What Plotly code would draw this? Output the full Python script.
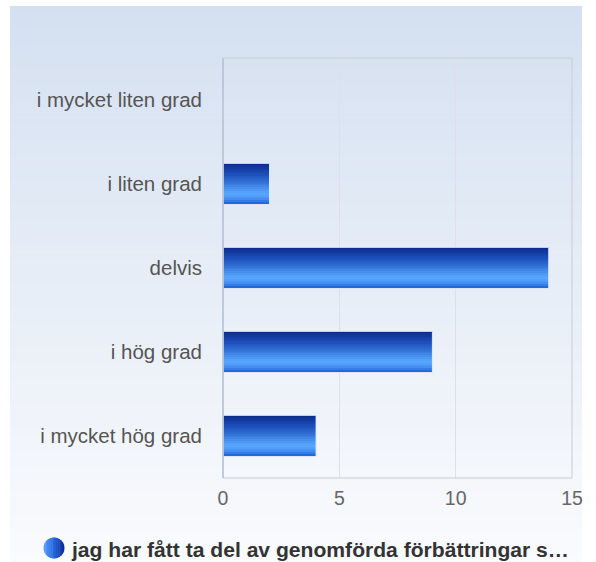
import math
import plotly.graph_objects as go

categories = ["i mycket liten grad", "i liten grad", "delvis", "i hög grad", "i mycket hög grad"]
values = [0, 2, 14, 9, 4]
x_ticks = [0, 5, 10, 15]
legend_label = "jag har fått ta del av genomförda förbättringar s…"

W, H = 596, 562
L, R, T, B = 223, 572, 58, 478
PW, PH = R - L, B - T

FONT = "Liberation Sans, Arial, Helvetica, sans-serif"


def px2x(px):
    return (px - L) / PW


def px2y(py):
    return (B - py) / PH


def lerp(c1, c2, t):
    return tuple(round(a + (b - a) * t) for a, b in zip(c1, c2))


def grad(stops, t):
    for (t0, c0), (t1, c1) in zip(stops, stops[1:]):
        if t <= t1:
            return lerp(c0, c1, (t - t0) / (t1 - t0) if t1 > t0 else 0)
    return stops[-1][1]


def rgb(c):
    return "rgb(%d,%d,%d)" % c


fig = go.Figure()

bar_w = 0.49
bar_stops = [(0.0, (10, 42, 138)), (0.3, (30, 82, 190)), (0.74, (88, 168, 255)),
             (0.88, (70, 145, 245)), (1.0, (28, 96, 210))]
N = 22
dw = bar_w / N
for i in range(N):
    t = (i + 0.5) / N
    fig.add_trace(go.Bar(
        y=categories, x=values, orientation="h",
        width=dw * 1.02, offset=-bar_w / 2 + i * dw,
        marker=dict(color=rgb(grad(bar_stops, t)), line=dict(width=0)),
        showlegend=False, hoverinfo="skip"))
fig.add_trace(go.Bar(
    y=categories, x=values, orientation="h", width=bar_w, offset=-bar_w / 2,
    marker=dict(color="rgba(0,0,0,0)", line=dict(color="rgba(235,242,255,0.9)", width=1)),
    showlegend=False, name=legend_label))

shapes = []
bg_top, bg_bot = (212, 224, 241), (250, 251, 253)
y_start, y_end = 6, 562
nb = 70
for i in range(nb):
    p0 = y_start + (y_end - y_start) * i / nb
    p1 = y_start + (y_end - y_start) * (i + 1) / nb + 0.6
    c = lerp(bg_top, bg_bot, (i + 0.5) / nb)
    shapes.append(dict(type="rect", xref="paper", yref="paper", layer="below",
                       x0=px2x(10), x1=px2x(582), y0=px2y(p0), y1=px2y(p1),
                       fillcolor=rgb(c), line=dict(width=0)))
shapes.append(dict(type="rect", xref="paper", yref="paper", layer="above",
                   x0=0, x1=1, y0=0, y1=1, fillcolor="rgba(0,0,0,0)",
                   line=dict(color="#c9ccd2", width=1)))
shapes.append(dict(type="line", xref="paper", yref="paper", layer="above",
                   x0=0, x1=0, y0=0, y1=1, line=dict(color="#b6c2d6", width=1.5)))

cx, cy, r = 54, 548, 10.5
circ_stops = [(0.0, (95, 160, 250)), (0.35, (50, 120, 235)), (0.75, (20, 70, 185)), (1.0, (12, 40, 140))]
ns = 12
for i in range(ns):
    xa = cx - r + 2 * r * i / ns
    xb = cx - r + 2 * r * (i + 1) / ns + 0.4
    pts_top, pts_bot = [], []
    steps = 6
    for k in range(steps + 1):
        xx = min(xa + (xb - xa) * k / steps, cx + r)
        dy = math.sqrt(max(r * r - (xx - cx) ** 2, 0))
        pts_top.append((xx, cy - dy))
        pts_bot.append((xx, cy + dy))
    pts = pts_top + pts_bot[::-1]
    path = "M " + " L ".join("%f,%f" % (px2x(a), px2y(b)) for a, b in pts) + " Z"
    shapes.append(dict(type="path", xref="paper", yref="paper", path=path,
                       fillcolor=rgb(grad(circ_stops, (i + 0.5) / ns)), line=dict(width=0)))

fig.update_layout(
    width=W, height=H,
    margin=dict(l=L, r=W - R, t=T, b=H - B, pad=0, autoexpand=False),
    paper_bgcolor="white", plot_bgcolor="rgba(255,255,255,0.12)",
    barmode="overlay",
    font=dict(family=FONT),
    showlegend=False,
    shapes=shapes,
    annotations=[dict(xref="paper", yref="paper", x=px2x(69), y=px2y(549),
                      xanchor="left", yanchor="middle", showarrow=False,
                      text="<b>" + legend_label + "</b>",
                      font=dict(size=21.1, color="#333333", family=FONT))],
    xaxis=dict(range=[0, 15], tickvals=x_ticks, showgrid=True, gridcolor="#dde0e6",
               gridwidth=1, zeroline=False, showline=False, ticks="",
               ticklabelstandoff=6, automargin=False,
               tickfont=dict(size=19.5, color="#666666"), fixedrange=True),
    yaxis=dict(categoryorder="array", categoryarray=categories, autorange="reversed",
               showgrid=False, zeroline=False, showline=False, ticks="",
               ticklabelstandoff=20, automargin=False,
               tickfont=dict(size=20.5, color="#555555"), fixedrange=True),
)

fig.write_html("out.html", config={"displayModeBar": False},
               post_script="document.body.style.margin='0';document.body.style.overflow='hidden';")
